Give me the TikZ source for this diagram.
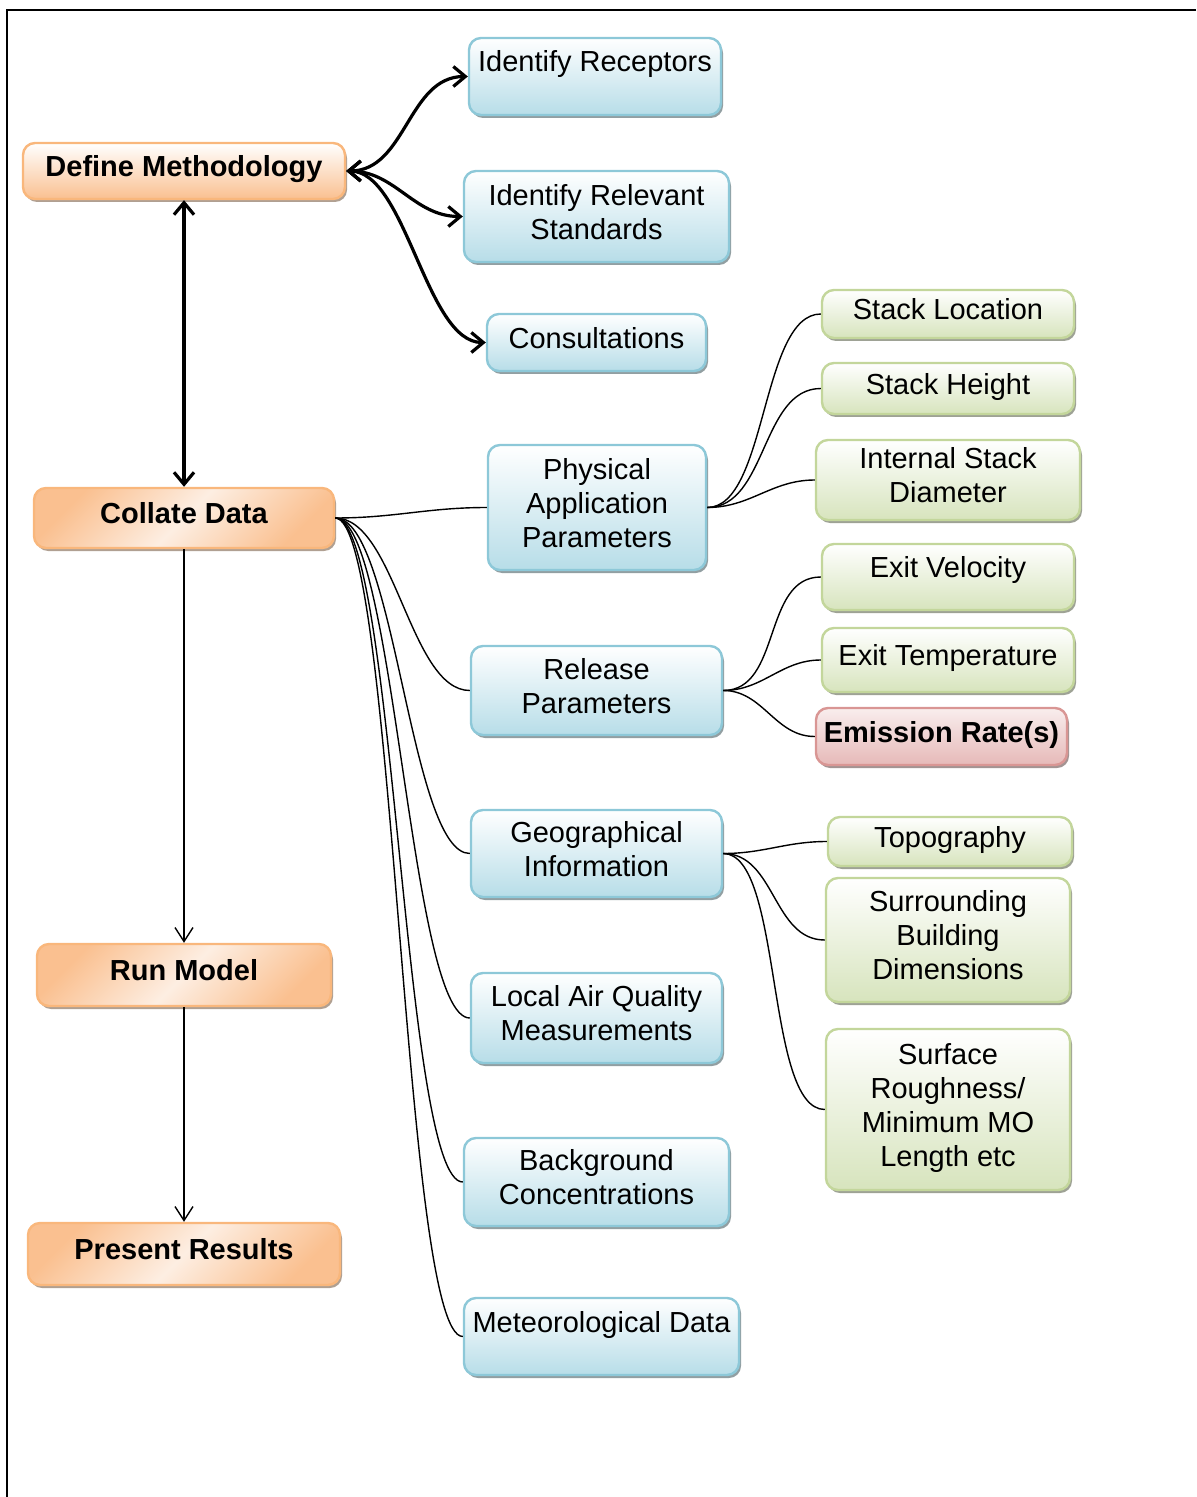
\documentclass[tikz,border=0pt]{standalone}
\usepackage{fontspec}
\setmainfont{Liberation Sans}
\usetikzlibrary{shadows,arrows.meta}

\definecolor{orgB}{HTML}{F9B77C}
\definecolor{orgF}{HTML}{FAC090}
\definecolor{orgL}{HTML}{FDEEE2}
\definecolor{bluB}{HTML}{8DC8D8}
\definecolor{bluF}{HTML}{B7DDE8}
\definecolor{grnB}{HTML}{C3D69B}
\definecolor{grnF}{HTML}{D7E4BD}
\definecolor{redB}{HTML}{D99694}
\definecolor{redF}{HTML}{E6B9B8}

\begin{document}
\begin{tikzpicture}[x=0.5pt, y=-0.5pt, font=\fontsize{14.5}{17}\selectfont]
\tikzstyle{box}=[rounded corners=6pt, line width=1.2pt, align=center, inner sep=2pt, text depth=5pt]
\tikzstyle{stage}=[box, draw=orgB, top color=orgF, bottom color=orgF, middle color=orgL, shading angle=45,
    font=\fontsize{14.5}{17}\selectfont\bfseries,
    drop shadow={shadow xshift=1pt, shadow yshift=-1.5pt, fill=orgB!45!black, opacity=.55}]
\tikzstyle{task}=[box, draw=bluB, top color=white, bottom color=bluF,
    drop shadow={shadow xshift=1pt, shadow yshift=-1.5pt, fill=bluB!40!black, opacity=.55}]
\tikzstyle{item}=[box, draw=grnB, top color=white, bottom color=grnF,
    drop shadow={shadow xshift=1pt, shadow yshift=-1.5pt, fill=grnB!40!black, opacity=.55}]
\tikzstyle{key}=[box, draw=redB, top color=redF!25, bottom color=redF,
    font=\fontsize{14.5}{17}\selectfont\bfseries,
    drop shadow={shadow xshift=1pt, shadow yshift=-1.5pt, fill=redB!40!black, opacity=.55}]
\tikzstyle{link}=[line width=0.7pt, out=0, in=180, max distance=30pt]
\tikzstyle{flow}=[line width=1.6pt, {Straight Barb[length=6pt,width=10pt]}-{Straight Barb[length=6pt,width=10pt]}]
\tikzstyle{next}=[line width=0.7pt, -{Straight Barb[length=7pt,width=9pt]}]

\useasboundingbox (0,0) rectangle (1196,1497);
\draw[line width=0.8pt] (1196,10) -- (7,10) -- (7,1497);

\node[stage, minimum width=161pt, minimum height=28pt, top color=white, bottom color=orgF, shading angle=0] (dm) at (184,171) {Define Methodology};
\node[stage, minimum width=150pt, minimum height=30pt] (cd) at (184,518) {Collate Data};
\node[stage, minimum width=147pt, minimum height=31pt] (rm) at (184,975) {Run Model};
\node[stage, minimum width=156pt, minimum height=31pt] (pr) at (184,1254) {Present Results};

\node[task, minimum width=126pt, minimum height=38.5pt, text depth=15pt] (ir) at (595,76.5) {Identify Receptors};
\node[task, minimum width=132.5pt, minimum height=45.5pt] (is) at (596.5,216.5) {Identify Relevant\\Standards};
\node[task, minimum width=109.5pt, minimum height=28.5pt] (co) at (596.5,342.5) {Consultations};
\node[task, minimum width=109pt, minimum height=62.5pt] (pa) at (597,507.5) {Physical\\Application\\Parameters};
\node[task, minimum width=125.5pt, minimum height=44.5pt] (rp) at (596.5,690.5) {Release\\Parameters};
\node[task, minimum width=125.5pt, minimum height=43.5pt] (gi) at (596.5,853.5) {Geographical\\Information};
\node[task, minimum width=125.5pt, minimum height=45pt] (aq) at (596.5,1018) {Local Air Quality\\Measurements};
\node[task, minimum width=132.5pt, minimum height=44pt] (bc) at (596.5,1182) {Background\\Concentrations};
\node[task, minimum width=137.5pt, minimum height=38.5pt, text depth=15pt] (md) at (601.5,1336.5) {Meteorological Data};

\node[item, minimum width=126pt, minimum height=24pt] (sl) at (948,314) {Stack Location};
\node[item, minimum width=126pt, minimum height=25.5pt] (sh) at (948,388.5) {Stack Height};
\node[item, minimum width=132pt, minimum height=40pt] (sd) at (948,480) {Internal Stack\\Diameter};
\node[item, minimum width=126pt, minimum height=33pt, text depth=10pt] (ev) at (948,577) {Exit Velocity};
\node[item, minimum width=126pt, minimum height=32pt] (et) at (948,660) {Exit Temperature};
\node[key, minimum width=125.5pt, minimum height=28.5pt] (er) at (941.5,736.5) {Emission Rate(s)};
\node[item, minimum width=122pt, minimum height=24.5pt] (tp) at (950,841.5) {Topography};
\node[item, minimum width=122pt, minimum height=62pt] (sb) at (948,940) {Surrounding\\Building\\Dimensions};
\node[item, minimum width=122pt, minimum height=80.5pt] (sr) at (948,1109.5) {Surface\\Roughness/\\Minimum MO\\Length etc};

\draw[flow] (dm.south) -- (cd.north);
\draw[next] (cd.south) -- (rm.north);
\draw[next] (rm.south) -- (pr.north);
\foreach \t in {ir,is,co}
    \draw[flow] (dm.east) to[out=0, in=180, max distance=30pt] (\t.west);
\foreach \t in {pa,rp,gi,aq,bc,md}
    \draw[link] (cd.east) to (\t.west);
\foreach \t in {sl,sh,sd}
    \draw[link] (pa.east) to (\t.west);
\foreach \t in {ev,et,er}
    \draw[link] (rp.east) to (\t.west);
\foreach \t in {tp,sb,sr}
    \draw[link] (gi.east) to (\t.west);
\end{tikzpicture}
\end{document}
